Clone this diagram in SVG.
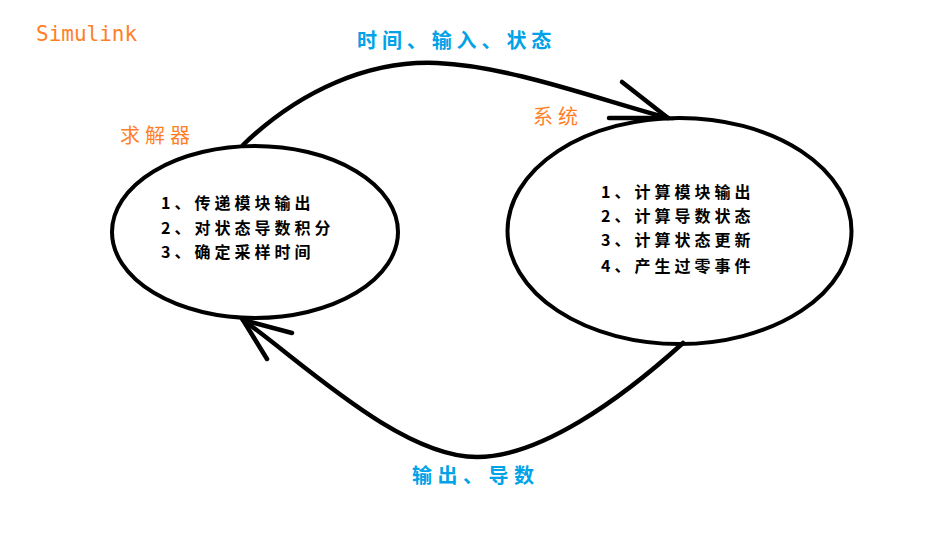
<svg xmlns="http://www.w3.org/2000/svg" width="939" height="560" viewBox="0 0 939 560">
<style>
.ell{fill:none;stroke:#000;stroke-width:4}
.con{fill:none;stroke:#000;stroke-width:4.5;stroke-linecap:round}
.cjk{font-family:"Noto Sans CJK SC","Noto Sans",sans-serif}
.orange{fill:#ff7f27}
.blue{fill:#00a2e8;font-weight:bold}
.body{fill:#000;font-weight:bold;font-size:16px;letter-spacing:4px}
</style>
<rect width="939" height="560" fill="#fff"/>
<text x="36" y="41" font-family="DejaVu Sans Mono, monospace" font-size="21" class="orange">Simulink</text>
<g id="connectors">
<path class="con" d="M243,145 C300,90 370,60 437,63 C510,66 600,100 668,118"/>
<path class="con" d="M622,82 L668,118 L609,118"/>
<path class="con" d="M683,343 C620,400 540,457 477,457 C400,457 300,360 243,320"/>
<path class="con" d="M292,333 L243,320 L267,359"/>
<text x="357" y="48" class="cjk blue" font-size="20" letter-spacing="4.9">时间、输入、状态</text>
<text x="412" y="483" class="cjk blue" font-size="20" letter-spacing="5.5">输出、导数</text>
</g>
<g id="solver">
<ellipse class="ell" cx="255" cy="232" rx="143" ry="86"/>
<text x="120" y="143" class="cjk orange" font-size="20" letter-spacing="5">求解器</text>
<text class="cjk body"><tspan x="161" y="209">1、传递模块输出</tspan><tspan x="161" y="234">2、对状态导数积分</tspan><tspan x="161" y="258">3、确定采样时间</tspan></text>
</g>
<g id="system">
<ellipse class="ell" cx="679.5" cy="231" rx="172" ry="113"/>
<text x="533" y="124" class="cjk orange" font-size="20" letter-spacing="5">系统</text>
<text class="cjk body"><tspan x="601" y="198">1、计算模块输出</tspan><tspan x="601" y="222">2、计算导数状态</tspan><tspan x="601" y="246">3、计算状态更新</tspan><tspan x="601" y="272">4、产生过零事件</tspan></text>
</g>
</svg>
